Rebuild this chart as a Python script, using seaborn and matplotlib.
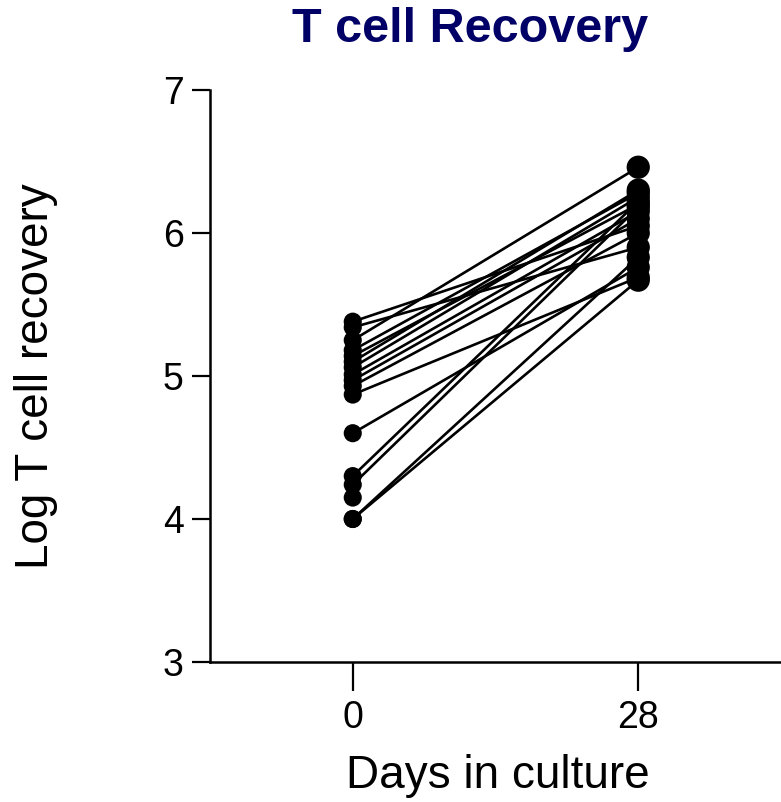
import matplotlib
matplotlib.use("Agg")
import matplotlib.pyplot as plt
import seaborn as sns
import numpy as np
import pandas as pd

days = [0, 28]
day0 = [5.38, 5.34, 5.25, 5.18, 5.14, 5.10, 5.06, 5.01, 4.97, 4.93, 4.87,
        4.60, 4.30, 4.24, 4.15, 4.00, 4.00]
day28 = [6.05, 5.90, 6.46, 6.28, 6.20, 6.30, 6.25, 6.15, 6.10, 6.00, 5.69,
         5.76, 6.22, 6.18, np.nan, 5.83, 5.67]
y_ticks = [3, 4, 5, 6, 7]

rows = []
for i, (a, b) in enumerate(zip(day0, day28)):
    rows.append({"subject": i, "day": days[0], "value": a})
    rows.append({"subject": i, "day": days[1], "value": b})
df = pd.DataFrame(rows).dropna()

sns.set_style("ticks")
plt.rcParams['font.family'] = ['Liberation Sans', 'DejaVu Sans']

fig = plt.figure(figsize=(7.81, 8.02), dpi=100)
ax = fig.add_axes([210/781, 1-662/802, 1-210/781, (662-90)/802])

sns.lineplot(data=df, x="day", y="value", units="subject", estimator=None,
             color="black", linewidth=1.9, ax=ax, legend=False)
sns.scatterplot(data=df, x="day", y="value", size="day", sizes={0: 170, 28: 280},
                color="black", edgecolor="black", linewidth=0, ax=ax, legend=False, zorder=3)

ax.set_xlim(-14, 42)
ax.set_ylim(3, 7)
ax.set_xticks(days)
ax.set_yticks(y_ticks)
ax.tick_params(axis="both", labelsize=27, width=1.6, color="black", labelcolor="black")
ax.tick_params(axis="y", length=13, pad=6)
ax.tick_params(axis="x", length=21, pad=6)
for s in ["left", "bottom"]:
    ax.spines[s].set_linewidth(1.8)
    ax.spines[s].set_color("black")
ax.spines["top"].set_visible(False)
ax.spines["right"].set_visible(False)

ax.set_xlabel("Days in culture", fontsize=33, color="black")
ax.set_ylabel("Log T cell recovery", fontsize=33, color="black")
ax.xaxis.set_label_coords((498-210)/571, (662-776)/572)
ax.yaxis.set_label_coords((36-210)/571, 0.5)
ax.xaxis.label.set_va("center")
ax.yaxis.label.set_va("center")
fig.text(470/781, 1-30/802, "T cell Recovery", fontsize=35, fontweight="bold",
         color="#000066", ha="center", va="center")

fig.savefig("out.png", dpi=100)
